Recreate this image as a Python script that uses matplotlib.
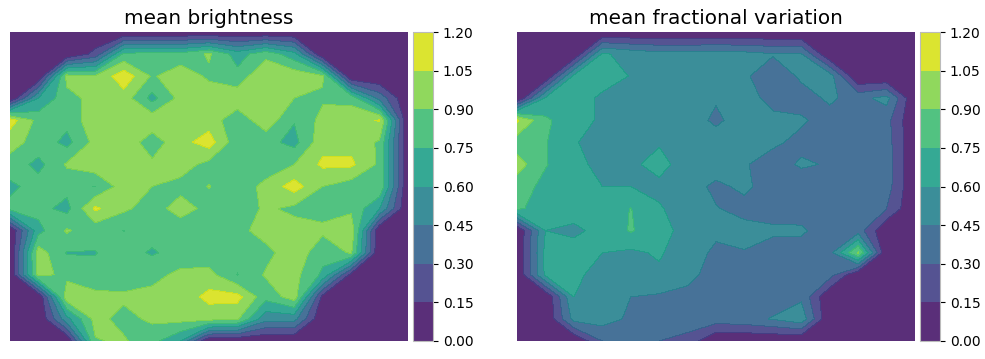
import numpy as np
import matplotlib
matplotlib.use("Agg")
import matplotlib.pyplot as plt

# valores (15x15, primeira linha = topo)
brilho = [
    [0, 0, 0, 0, 0, 0, 0, 0, 0, 0, 0, 0, 0, 0, 0],
    [0, 0, 0, .2, .78, .8, .8, .92, .68, .85, .65, 0, 0, 0, 0],
    [0, 0, .95, .91, 1.15, .88, 1.0, .87, .8, 1.05, 1.0, .92, 0, 0, 0],
    [0, .6, .85, .95, .98, .7, .95, 1.0, 1.0, 1.0, .9, .88, .85, .4, 0],
    [1.12, .85, .8, 1.0, 1.0, 1.0, 1.0, .98, .8, 1.0, .76, .95, 1.0, 1.06, 0],
    [.95, .85, .7, .95, 1.0, .82, 1.0, 1.12, .8, .8, .7, 1.0, 1.0, .88, 0],
    [.85, .7, .92, 1.0, 1.0, .93, .97, .85, .9, .8, .9, 1.08, 1.08, .87, 0],
    [.71, .82, .8, .745, .98, .9, .85, .905, .8, .95, 1.12, .9, .82, .88, 0],
    [.8, .8, .7, 1.08, .93, .83, .97, .85, .8, .93, .86, .85, .87, .6, 0],
    [0, .7, .92, .8, .748, .8, .8, .8, .85, .97, .97, .93, 1.0, 0, 0],
    [0, .98, .74, .745, .8, .735, .8, .8, .8, .85, 1.0, .8, .92, 0, 0],
    [0, .95, .86, .78, .8, .85, .94, .95, .745, .92, .95, .72, .1, 0, 0],
    [0, 0, 1.0, .95, .93, .95, .95, 1.1, 1.1, .8, .98, .1, 0, 0, 0],
    [0, 0, .55, .95, .85, .93, .95, .95, .92, .5, .5, 0, 0, 0, 0],
    [0, 0, 0, .89, .92, .8, .6, 0, 0, 0, 0, 0, 0, 0, 0],
]

variacao = [
    [0, 0, 0, 0, 0, 0, 0, 0, 0, 0, 0, 0, 0, 0, 0],
    [0, 0, 0, .62, .55, .5, .5, .52, .5, .46, .46, 0, 0, 0, 0],
    [0, 0, .63, .65, .595, .52, .52, .52, .47, .37, .47, .52, 0, 0, 0],
    [0, .62, .65, .58, .52, .5, .5, .46, .5, .41, .4, .47, .4, .5, 0],
    [1.07, .78, .65, .58, .5, .5, .5, .43, .5, .48, .465, .405, .38, .35, 0],
    [.82, .76, .62, .5, .5, .58, .53, .5, .5, .47, .42, .4, .38, .37, 0],
    [.97, .76, .65, .55, .56, .67, .5, .5, .46, .4, .465, .44, .38, .38, 0],
    [.82, .71, .66, .6, .6, .55, .49, .43, .47, .4, .38, .38, .38, .37, 0],
    [.78, .67, .64, .65, .755, .62, .5, .455, .42, .4, .39, .38, .37, .3, 0],
    [0, .6, .58, .63, .765, .65, .55, .47, .48, .47, .47, .38, .38, 0, 0],
    [0, .64, .64, .6, .57, .62, .5, .43, .445, .4, .39, .4, .92, 0, 0],
    [0, .63, .66, .5, .52, .57, .47, .42, .4, .4, .38, .36, 0, 0, 0],
    [0, 0, .6, .5, .45, .43, .43, .4, .4, .38, .42, 0, 0, 0, 0],
    [0, 0, .5, .52, .42, .38, .38, .38, .4, .46, .55, 0, 0, 0, 0],
    [0, 0, 0, .3, .33, .3, .25, 0, 0, 0, 0, 0, 0, 0, 0],
]

niveis = [0, .15, .3, .45, .6, .75, .9, 1.05, 1.2]
titulos = ["mean brightness", "mean fractional variation"]

fig = plt.figure(figsize=(9.85, 3.59), dpi=100)
W, H = 985, 359


def painel(dados, titulo, x0):
    ax = fig.add_axes([x0 / W, 1 - 341 / H, 398 / W, 309 / H])
    cax = fig.add_axes([(x0 + 403) / W, 1 - 341 / H, 20 / W, 309 / H])
    cf = ax.contourf(np.array(dados), levels=niveis, cmap="viridis", alpha=0.9)
    ax.invert_yaxis()
    ax.set_xticks([])
    ax.set_yticks([])
    for s in ax.spines.values():
        s.set_visible(False)
    ax.set_title(titulo, fontsize=14.4, pad=6)
    cb = fig.colorbar(cf, cax=cax, ticks=niveis, format="%.2f")
    cb.outline.set_edgecolor("#bbbbbb")
    cb.ax.tick_params(labelsize=10)


painel(brilho, titulos[0], 10)
painel(variacao, titulos[1], 517)

fig.savefig("out.png", dpi=100)
